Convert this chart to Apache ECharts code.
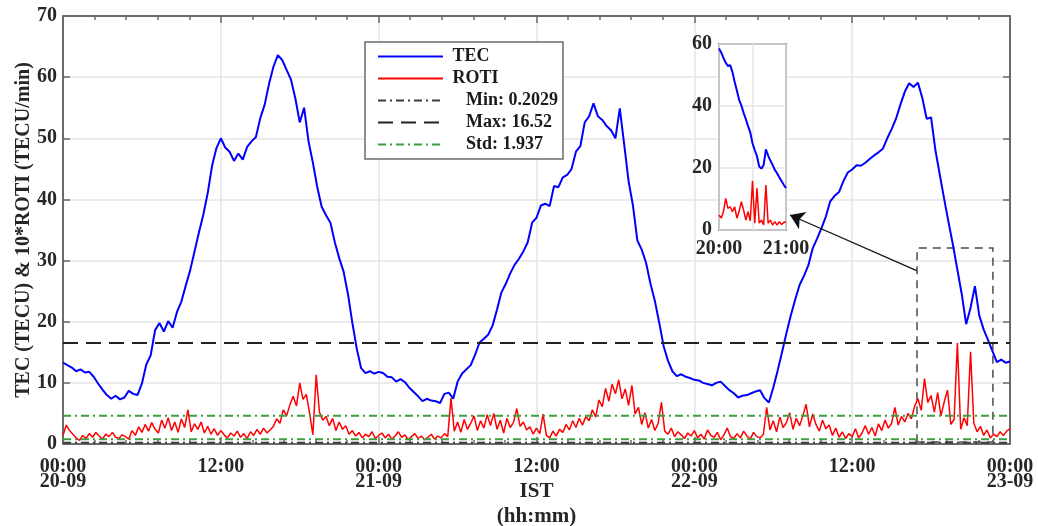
<!DOCTYPE html>
<html>
<head>
<meta charset="utf-8">
<script src="https://cdn.jsdelivr.net/npm/echarts@6/dist/echarts.min.js"></script>
<style>
  html, body { margin: 0; padding: 0; background: #fff; }
  #chart { width: 1038px; height: 526px; }
</style>
</head>
<body>
<div id="chart"></div>
<script>
// TEC and 10*ROTI over three days (20-09 to 23-09), with a zoomed inset.

// --- Data ------------------------------------------------------------------

// TEC (TECU), one value every 20 min from 00:00 20-09 (hours on x axis)
var TEC_STEP = 1 / 3;
var TEC = [
  13.3, 12.9, 12.5, 11.9, 12.2, 11.7, 11.8, 11.0, 9.9, 8.9, 8.0, 7.4,
  7.9, 7.3, 7.6, 8.7, 8.2, 8.0, 9.9, 13.0, 14.5, 18.6, 19.8, 18.4,
  20.1, 19.0, 21.6, 23.3, 25.9, 28.4, 31.5, 34.6, 37.5, 41.0, 45.5, 48.4,
  50.0, 48.5, 47.8, 46.3, 47.5, 46.5, 48.6, 49.5, 50.2, 53.3, 55.5, 58.9,
  61.7, 63.6, 62.8, 61.2, 59.6, 56.5, 52.6, 55.0, 49.5, 46.0, 42.0, 38.8,
  37.4, 36.2, 33.0, 30.4, 28.2, 24.5, 19.8, 15.6, 12.4, 11.6, 11.9, 11.5,
  11.8, 11.6, 11.0, 10.9, 10.2, 10.6, 10.1, 9.2, 8.5, 7.8, 7.0, 7.4,
  7.1, 7.0, 6.7, 8.2, 8.4, 7.4, 10.2, 11.5, 12.2, 12.9, 14.6, 16.6,
  17.2, 17.9, 19.4, 22.0, 24.8, 26.2, 27.9, 29.3, 30.3, 31.5, 33.0, 36.2,
  37.0, 39.0, 39.3, 38.9, 42.2, 42.0, 43.6, 44.0, 45.0, 47.8, 48.7, 52.6,
  53.6, 55.7, 53.6, 53.0, 52.0, 51.3, 50.0, 54.9, 49.0, 43.0, 39.0, 33.3,
  31.8, 29.6, 26.2, 23.4, 19.8, 16.0, 13.6, 11.9, 11.1, 11.4, 11.0, 10.8,
  10.5, 10.4, 10.0, 9.8, 9.6, 10.0, 10.2, 9.5, 8.8, 8.3, 7.6, 7.9,
  8.0, 8.3, 8.6, 8.8, 7.5, 6.8, 9.2, 12.0, 15.0, 18.1, 21.0, 23.6,
  26.0, 27.5, 29.2, 32.0, 33.6, 35.3, 37.2, 39.7, 40.6, 41.2, 43.0, 44.4,
  44.9, 45.6, 45.5, 46.0, 46.6, 47.2, 47.7, 48.3, 50.0, 51.5, 53.2, 55.5,
  57.6, 59.0, 58.4, 59.1, 56.6, 53.2, 53.4, 48.0, 44.0, 40.0, 36.2, 32.5,
  28.5, 24.5, 19.6, 22.3, 25.8, 21.0, 18.7, 17.0, 15.2, 13.4, 13.8, 13.3,
  13.5
];

// 10*ROTI (TECU/min), one value every 15 min
var ROTI_STEP = 0.25;
var ROTI = [
  1.4, 3.1, 2.2, 1.6, 1.0, 0.6, 1.4, 0.9, 1.7, 1.1, 1.9, 1.3, 0.8, 1.6, 1.2, 1.9,
  1.1, 0.9, 1.5, 1.2, 0.8, 2.2, 1.4, 2.8, 1.9, 3.2, 2.1, 3.5, 2.4, 1.8, 3.9, 2.6,
  4.3, 2.2, 3.6, 1.9, 4.1, 2.7, 5.6, 2.0, 3.3, 2.4, 3.6, 1.8, 2.9, 1.6, 2.5, 1.4,
  2.2, 1.5, 1.0, 1.8, 1.3, 2.1, 1.1, 1.7, 0.9, 2.0, 1.4, 2.4, 1.6, 2.6, 1.8, 2.3,
  2.9, 4.1, 3.4, 5.6, 4.6, 6.4, 7.8, 6.2, 10.0, 7.3, 8.1, 5.0, 1.5, 11.3, 5.2, 3.9,
  4.5, 3.0, 4.2, 2.2, 3.6, 2.4, 3.0, 1.6, 2.2, 1.3, 1.9, 1.0, 1.6, 1.2, 2.0, 0.9,
  1.4, 1.8, 1.0, 1.6, 0.8, 1.3, 2.0, 1.1, 1.5, 0.7, 1.2, 1.7, 0.9, 1.3, 0.7, 1.1,
  1.6, 0.8, 1.3, 1.0, 1.7, 1.2, 7.5, 2.1, 3.6, 1.9, 4.0, 2.4, 3.4, 4.6, 2.2, 3.8,
  2.6, 4.8, 3.0, 5.0, 2.4, 3.9, 1.8, 4.2, 2.7, 3.5, 5.8, 2.9, 3.6, 2.3, 2.8, 1.6,
  2.6, 1.7, 4.9, 1.4, 1.0, 2.1, 1.3, 2.4, 1.9, 3.2, 2.3, 3.8, 2.7, 4.2, 3.1, 4.5,
  3.8, 5.6, 4.4, 7.2, 6.1, 9.1, 7.0, 9.8, 8.2, 10.5, 7.4, 9.0, 6.3, 9.6, 4.9, 6.0,
  3.2, 5.1, 2.6, 4.0, 2.2, 3.4, 6.8, 2.1, 1.6, 2.6, 1.2, 2.0, 1.5, 0.9, 1.8, 1.3,
  2.2, 1.0, 1.6, 0.8, 2.3, 1.4, 1.1, 1.9, 0.7, 1.5, 2.6, 1.2, 0.9, 1.7, 1.0, 2.1,
  1.3, 0.8, 1.9, 1.2, 1.0, 1.6, 6.0, 2.3, 3.8, 2.0, 4.4, 2.7, 3.5, 5.1, 2.4, 4.2,
  3.0, 4.6, 6.5, 2.8, 4.9, 3.2, 2.1, 3.9, 2.5, 3.1, 1.4, 2.6, 1.1, 2.0, 0.9, 1.7,
  1.2, 2.5, 1.0, 1.8, 3.0, 1.6, 2.7, 1.3, 3.3, 2.2, 3.9, 2.6, 3.4, 6.0, 3.1, 4.5,
  3.6, 5.0, 4.1, 6.2, 7.4, 5.5, 10.7, 6.8, 7.9, 5.2, 8.4, 4.6, 6.9, 8.8, 3.2, 4.0,
  16.5, 2.4, 4.3, 3.0, 15.1, 3.4, 2.0, 2.9, 1.4, 2.3, 1.0, 1.6, 1.2, 2.0, 1.4, 2.1,
  2.5
];

// Inset 20:00-21:00, one value every 2 min (minutes on x axis)
var INSET_STEP = 2;
var INSET_TEC = [
  58.6, 57.2, 55.5, 54.0, 52.9, 53.2, 51.0, 47.8, 45.0, 42.0, 40.2, 37.8, 35.8, 33.5, 31.5, 28.0,
  25.8, 23.8, 20.5, 19.8, 21.0, 26.0, 24.0, 22.4, 21.0, 19.4, 18.3, 17.0, 15.8, 14.6, 13.5
];
var INSET_ROTI = [
  4.8, 3.9, 6.0, 10.2, 7.0, 7.5, 5.9, 7.5, 3.8, 6.0, 9.1, 6.5, 3.2, 5.9, 3.0, 15.9,
  2.2, 13.5, 2.2, 3.2, 1.6, 14.5, 2.2, 3.2, 1.6, 2.7, 1.6, 2.7, 1.8, 2.4, 2.7
];

// ROTI statistics shown in the legend (std lines drawn at mean +/- std)
var STAT_MIN = 0.2029;
var STAT_MAX = 16.52;
var STAT_STD = 1.937;
var ROTI_MEAN = 2.70;

// Tick labels
var X_TICK_LABELS = ['00:00\n20-09', '12:00', '00:00\n21-09', '12:00', '00:00\n22-09', '12:00', '00:00\n23-09'];
var INSET_X_LABELS = ['20:00', '', '21:00'];

// Zoom box [h0, v0, h1, v1] and arrow [from, to] in data units
var ZOOM_BOX = [64.93, 0.33, 70.7, 32.06];
var ARROW = [[64.9, 28.35], [55.27, 37.45]];

// --- Chart -----------------------------------------------------------------

var FONT = '"Liberation Serif", "Times New Roman", serif';
var AXIS_GREY = '#6b6b6b';
var GRID_GREY = '#e4e4e4';
var DASH_DOT = [8, 4, 2, 4];

function label(extra) {
  return Object.assign({ color: '#262626', fontFamily: FONT, fontWeight: 'bold', fontSize: 20 }, extra || {});
}

function toXY(arr, step) {
  return arr.map(function (v, i) { return [i * step, v]; });
}

var NAME_MIN = 'Min: ' + STAT_MIN;
var NAME_MAX = 'Max: ' + STAT_MAX;
var NAME_STD = 'Std: ' + STAT_STD;

var frameLine = { show: true, onZero: false, lineStyle: { color: AXIS_GREY, width: 2 } };
var innerTick = { show: true, inside: true, length: 7, lineStyle: { color: AXIS_GREY, width: 1.5 } };
var innerMinor = { show: true, splitNumber: 5, length: 4, lineStyle: { color: AXIS_GREY, width: 1.5 } };

var chart = echarts.init(document.getElementById('chart'), null, { renderer: 'canvas' });

chart.setOption({
  animation: false,
  backgroundColor: '#fff',
  grid: [
    { left: 63, right: 28, top: 16, bottom: 82, containLabel: false, outerBoundsMode: 'none' },
    { left: 719, top: 44, width: 67, height: 186, show: true, backgroundColor: '#fff',
      borderColor: AXIS_GREY, borderWidth: 2, z: 10, containLabel: false, outerBoundsMode: 'none' }
  ],
  legend: {
    data: ['TEC', 'ROTI', NAME_MIN, NAME_MAX, NAME_STD],
    orient: 'vertical',
    left: 365,
    top: 42,
    padding: [5.5, 5, 5.5, 12],
    itemGap: 4,
    itemWidth: 65,
    itemHeight: 15,
    backgroundColor: '#fff',
    borderColor: AXIS_GREY,
    borderWidth: 1.5,
    borderRadius: 0,
    selectedMode: false,
    itemStyle: { color: 'transparent', borderWidth: 0 },
    textStyle: label({ fontSize: 18, lineHeight: 15, color: '#1a1a1a' }),
    formatter: function (name) {
      return (name === 'TEC' || name === 'ROTI') ? ' ' + name : '    ' + name;
    }
  },
  xAxis: [
    {
      type: 'value', gridIndex: 0, position: 'bottom', min: 0, max: 72, interval: 12,
      axisLine: frameLine, axisTick: innerTick, minorTick: innerMinor,
      axisLabel: label({ margin: 15, lineHeight: 15,
        formatter: function (v) { return X_TICK_LABELS[Math.round(v / 12)]; } }),
      splitLine: { show: true, lineStyle: { color: GRID_GREY, width: 1.5 } },
      name: 'IST\n(hh:mm)', nameLocation: 'middle', nameGap: 35, nameMoveOverlap: false,
      nameTextStyle: label({ fontSize: 21, lineHeight: 25 })
    },
    {
      type: 'value', gridIndex: 0, position: 'top', min: 0, max: 72, interval: 12,
      axisLine: frameLine, axisTick: innerTick, minorTick: innerMinor,
      axisLabel: { show: false }, splitLine: { show: false }
    },
    {
      type: 'value', gridIndex: 1, min: 0, max: 60, interval: 30, z: 11,
      axisLine: { show: false }, axisTick: { show: false },
      axisLabel: label({ margin: 9,
        formatter: function (v) { return INSET_X_LABELS[Math.round(v / 30)]; } }),
      splitLine: { show: true, lineStyle: { color: GRID_GREY, width: 1.5 } }
    }
  ],
  yAxis: [
    {
      type: 'value', gridIndex: 0, position: 'left', min: 0, max: 70, interval: 10,
      axisLine: frameLine, axisTick: innerTick,
      axisLabel: label({ margin: 6 }),
      splitLine: { show: true, lineStyle: { color: GRID_GREY, width: 1.5 } },
      name: 'TEC (TECU) & 10*ROTI (TECU/min)', nameLocation: 'middle', nameGap: 29,
      nameMoveOverlap: false,
      nameTextStyle: label({ fontSize: 20 })
    },
    {
      type: 'value', gridIndex: 0, position: 'right', min: 0, max: 70, interval: 10,
      axisLine: frameLine, axisTick: innerTick,
      axisLabel: { show: false }, splitLine: { show: false }
    },
    {
      type: 'value', gridIndex: 1, min: 0, max: 60, interval: 20, z: 11,
      axisLine: { show: false }, axisTick: { show: false },
      axisLabel: label({ margin: 7 }),
      splitLine: { show: true, lineStyle: { color: GRID_GREY, width: 1.5 } }
    }
  ],
  series: [
    {
      name: 'TEC', type: 'line', xAxisIndex: 0, yAxisIndex: 0,
      data: toXY(TEC, TEC_STEP), symbol: 'none',
      lineStyle: { color: '#0000ff', width: 2 }, itemStyle: { color: '#0000ff' },
      markArea: {
        silent: true,
        itemStyle: { color: 'transparent', borderColor: '#4a4a4a', borderWidth: 1.5, borderType: [8, 6] },
        data: [[{ coord: [ZOOM_BOX[0], ZOOM_BOX[1]] }, { coord: [ZOOM_BOX[2], ZOOM_BOX[3]] }]]
      },
      markLine: {
        silent: true, symbol: ['none', 'arrow'], symbolSize: 14,
        label: { show: false },
        lineStyle: { color: '#111', width: 1.2, type: 'solid' },
        data: [[{ coord: ARROW[0] }, { coord: ARROW[1] }]]
      }
    },
    {
      name: 'ROTI', type: 'line', xAxisIndex: 0, yAxisIndex: 0,
      data: toXY(ROTI, ROTI_STEP), symbol: 'none',
      lineStyle: { color: '#ff0000', width: 1.5 }, itemStyle: { color: '#ff0000' }
    },
    {
      name: NAME_MIN, type: 'line', xAxisIndex: 0, yAxisIndex: 0, symbol: 'none',
      data: [[0, STAT_MIN], [72, STAT_MIN]],
      lineStyle: { color: '#3c3c3c', width: 2, type: DASH_DOT }, itemStyle: { color: '#3c3c3c' }
    },
    {
      name: NAME_MAX, type: 'line', xAxisIndex: 0, yAxisIndex: 0, symbol: 'none',
      data: [[0, STAT_MAX], [72, STAT_MAX]],
      lineStyle: { color: '#222', width: 2, type: [15, 8] }, itemStyle: { color: '#222' }
    },
    {
      name: NAME_STD, type: 'line', xAxisIndex: 0, yAxisIndex: 0, symbol: 'none',
      data: [[0, ROTI_MEAN - STAT_STD], [72, ROTI_MEAN - STAT_STD]],
      lineStyle: { color: '#3d9e3d', width: 2, type: DASH_DOT }, itemStyle: { color: '#3d9e3d' }
    },
    {
      name: NAME_STD, type: 'line', xAxisIndex: 0, yAxisIndex: 0, symbol: 'none',
      data: [[0, ROTI_MEAN + STAT_STD], [72, ROTI_MEAN + STAT_STD]],
      lineStyle: { color: '#3d9e3d', width: 2, type: DASH_DOT }, itemStyle: { color: '#3d9e3d' }
    },
    {
      name: 'inset TEC', type: 'line', xAxisIndex: 2, yAxisIndex: 2, z: 12,
      data: toXY(INSET_TEC, INSET_STEP), symbol: 'none',
      lineStyle: { color: '#0000ff', width: 2 }
    },
    {
      name: 'inset ROTI', type: 'line', xAxisIndex: 2, yAxisIndex: 2, z: 12,
      data: toXY(INSET_ROTI, INSET_STEP), symbol: 'none',
      lineStyle: { color: '#ff0000', width: 1.5 }
    }
  ]
});
</script>
</body>
</html>
